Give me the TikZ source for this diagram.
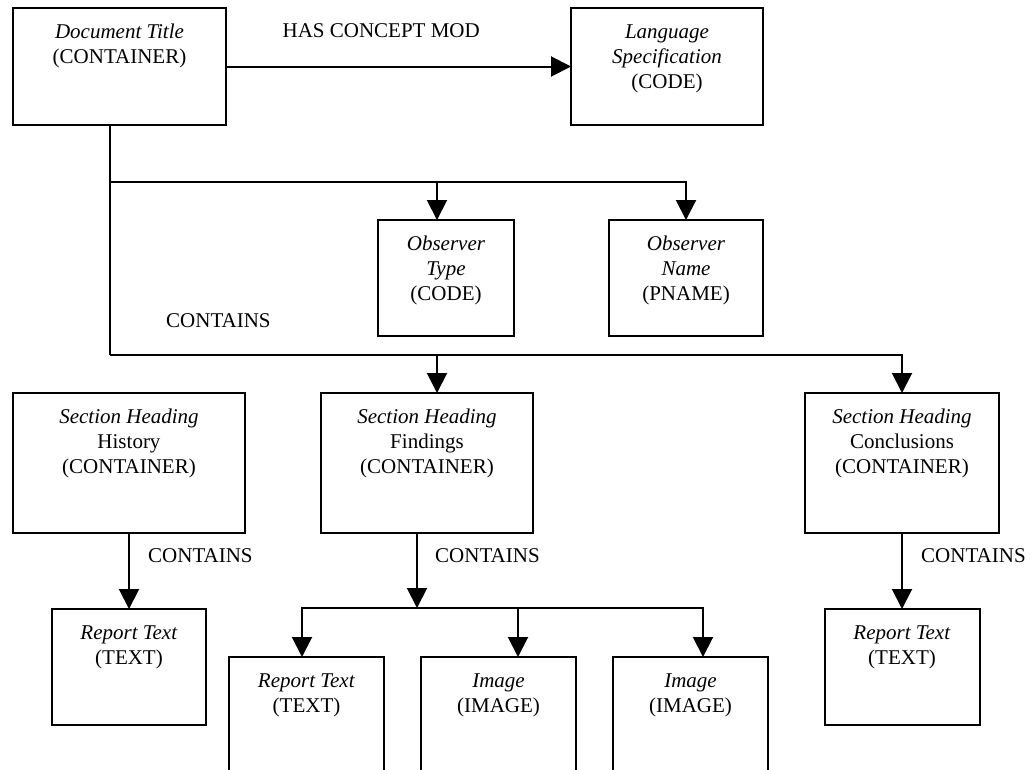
\documentclass[tikz,border=0pt]{standalone}
\usepackage{fontspec}
\setmainfont{Liberation Serif}
\usepackage{tikz}
\usetikzlibrary{arrows.meta,positioning}
\tikzstyle{box} = [draw, rectangle, line width=2pt, inner sep=0pt, outer sep=0pt]
\tikzstyle{line} = [draw, line width=2pt]
\tikzstyle{arr} = [line, -{Triangle[length=20pt,width=20pt]}]
\tikzstyle{lbl} = [inner sep=0pt, anchor=base west]
\newcommand{\boxtext}[3]{\parbox[t][#2][t]{#1}{\centering\rule{0pt}{30pt}#3}}

\begin{document}
\begin{tikzpicture}[x=1pt, y=-1pt, font=\fontsize{21}{25}\selectfont]
  \useasboundingbox (0,0) rectangle (1034,769);
  \clip (0,0) rectangle (1034,769);
  % Place nodes
  \node [box, anchor=north west] (doc) at (13,8)
  {\boxtext{213pt}{117pt}{\textit{Document Title}\\(CONTAINER)}};
  \node [box, right=345pt of doc] (lang)
  {\boxtext{192pt}{117pt}{\textit{Language}\\\textit{Specification}\\(CODE)}};
  \node [box, anchor=north west] (obstype) at (378,220)
  {\boxtext{136pt}{116pt}{\textit{Observer}\\\textit{Type}\\(CODE)}};
  \node [box, right=95pt of obstype] (obsname)
  {\boxtext{154pt}{116pt}{\textit{Observer}\\\textit{Name}\\(PNAME)}};
  \node [box, anchor=north west] (hist) at (13,393)
  {\boxtext{232pt}{140pt}{\textit{Section Heading}\\History\\(CONTAINER)}};
  \node [box, right=76pt of hist] (find)
  {\boxtext{212pt}{140pt}{\textit{Section Heading}\\Findings\\(CONTAINER)}};
  \node [box, anchor=north west] (concl) at (805,393)
  {\boxtext{194pt}{140pt}{\textit{Section Heading}\\Conclusions\\(CONTAINER)}};
  \node [box, below=76pt of hist] (hrep)
  {\boxtext{154pt}{116pt}{\textit{Report Text}\\(TEXT)}};
  \node [box, below=76pt of concl] (crep)
  {\boxtext{155pt}{116pt}{\textit{Report Text}\\(TEXT)}};
  \node [box, anchor=north west] (frep) at (229,657)
  {\boxtext{155pt}{140pt}{\textit{Report Text}\\(TEXT)}};
  \node [box, right=37pt of frep] (img1)
  {\boxtext{155pt}{140pt}{\textit{Image}\\(IMAGE)}};
  \node [box, right=37pt of img1] (img2)
  {\boxtext{155pt}{140pt}{\textit{Image}\\(IMAGE)}};
  % Labels
  \node [lbl] (ctop) at (166,327) {CONTAINS};
  \node [lbl] (chist) at (148,562) {CONTAINS};
  \node [lbl] (cfind) at (435,562) {CONTAINS};
  \node [lbl] (cconcl) at (921,562) {CONTAINS};
  % Connectors
  \coordinate (j1) at (110,182);
  \coordinate (j2) at (110,355);
  \coordinate (fbar) at (417,608);
  \draw[arr] (doc) -- node[pos=0.45, above=28pt, inner sep=0pt] (hcm) {HAS CONCEPT MOD} (lang);
  \draw[line] (doc.south -| j1) -- (j2);
  \draw[arr] (j1) -| ([xshift=-9pt]obstype.north);
  \draw[arr] (j1) -| (obsname.north);
  \draw[arr] (j2) -| ([xshift=10pt]find.north);
  \draw[arr] (j2) -| (concl.north);
  \draw[arr] (hist) -- (hrep);
  \draw[arr] (concl) -- (crep);
  \draw[arr] ([xshift=-10pt]find.south) -- (fbar);
  \draw[arr] (fbar) -| ([xshift=-4.5pt]frep.north);
  \draw[arr] (fbar) -| ([xshift=19.5pt]img1.north);
  \draw[arr] (fbar) -| ([xshift=12.5pt]img2.north);
\end{tikzpicture}
\end{document}
